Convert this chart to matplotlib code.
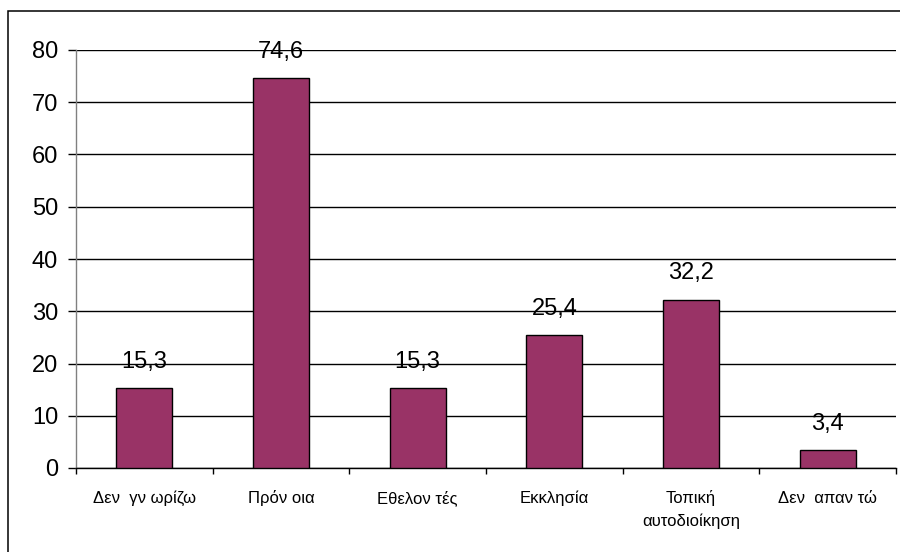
import numpy as np
import matplotlib.pyplot as plt
from matplotlib.patches import Rectangle


plt.rcParams['font.family'] = ['Liberation Sans', 'DejaVu Sans']

# survey answers (%)
categories = ["Δεν  γν ωρίζω", "Πρόν οια", "Εθελον τές", "Εκκλησία",
              "Τοπική\nαυτοδιοίκηση", "Δεν  απαν τώ"]
values = [15.3, 74.6, 15.3, 25.4, 32.2, 3.4]
yticks = [0, 10, 20, 30, 40, 50, 60, 70, 80]

W, H = 900, 552
fig = plt.figure(figsize=(W / 100, H / 100), dpi=100)
ax = fig.add_axes([76 / W, 1 - 468 / H, (896 - 76) / W, (468 - 50) / H])

x = np.arange(len(categories))
bars = ax.bar(x, values, width=0.41, color="#993366", edgecolor="black",
              linewidth=1.0, zorder=3)

for xi, v in zip(x, values):
    ax.annotate(f"{v:.1f}".replace(".", ","), (xi, v), xytext=(0, 19),
                textcoords="offset points", ha="center", va="center",
                fontsize=17, zorder=4)

ax.set_xlim(-0.5, len(categories) - 0.5)
ax.set_ylim(0, 80)
ax.set_yticks(yticks)
ax.tick_params(axis="y", labelsize=17, length=5.8, width=1, color="black", pad=7)
ax.yaxis.grid(True, color="black", linewidth=1, zorder=0)

# category boundary ticks; names written line by line under each bar
ax.set_xticks(np.arange(-0.5, len(categories)), labels=[""] * (len(categories) + 1))
ax.tick_params(axis="x", which="major", length=4.3, width=1, color="black")
for xi, name in zip(x, categories):
    for k, line in enumerate(name.split("\n")):
        ax.annotate(line, (xi, 0), xycoords=ax.get_xaxis_transform(),
                    xytext=(0, -25 - 16.5 * k), textcoords="offset points",
                    ha="center", va="baseline", fontsize=12,
                    annotation_clip=False)

for s in ("top", "right"):
    ax.spines[s].set_visible(False)
ax.spines["left"].set_color("#808080")
ax.spines["left"].set_linewidth(1)
ax.spines["bottom"].set_color("black")
ax.spines["bottom"].set_linewidth(1)
ax.set_axisbelow(True)

# frame around the chart area
fig.add_artist(Rectangle((8 / W, -0.1), 1.2, 1.1 - 11 / H,
                         transform=fig.transFigure, fill=False,
                         edgecolor="black", linewidth=1.1))

fig.savefig("out.png", dpi=100)
